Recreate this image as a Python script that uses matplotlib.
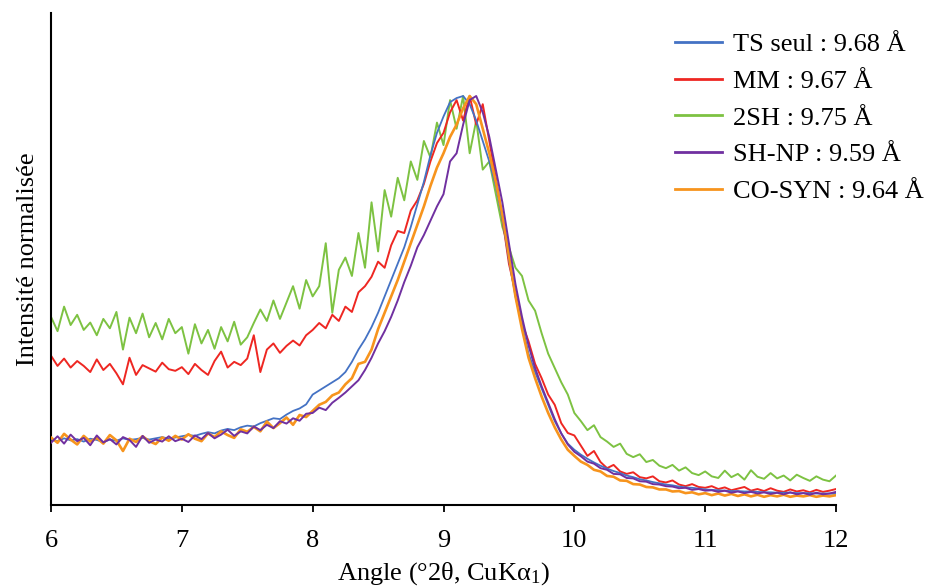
import numpy as np
import matplotlib
matplotlib.use('Agg')
import matplotlib.pyplot as plt

plt.rcParams['font.family'] = ['Liberation Serif', 'DejaVu Serif']
plt.rcParams['mathtext.fontset'] = 'custom'
plt.rcParams['mathtext.rm'] = 'Liberation Serif'
plt.rcParams['mathtext.it'] = 'Liberation Serif:italic'

# scan grid (°2θ), one point every 0.05°
ANGLE_START = 6.0
ANGLE_STEP = 0.05

# normalized intensities (peak = 100)
ts_seul = [
    16.0, 15.6, 16.3, 15.8, 16.1, 15.5, 16.2, 15.9, 15.4, 16.0, 15.7, 16.3, 15.9, 16.1, 16.4, 16.0, 16.3, 16.6, 16.2, 16.5,
    16.8, 17.1, 16.9, 17.4, 17.8, 17.5, 18.2, 18.6, 18.3, 19.0, 19.4, 19.2, 20.0, 20.6, 21.2, 21.0, 22.1, 23.0, 23.6, 24.6,
    27.0, 28.0, 29.0, 30.0, 31.0, 32.5, 35.0, 38.0, 40.5, 43.5, 47.0, 51.0, 55.0, 59.0, 63.0, 68.0, 73.5, 79.0, 85.5, 91.0,
    95.0, 98.5, 99.5, 100.0, 98.0, 94.0, 89.0, 84.0, 78.0, 70.0, 60.0, 51.0, 44.0, 37.0, 32.5, 28.5, 24.5, 20.5, 17.5, 15.0,
    13.5, 12.3, 11.3, 10.4, 9.6, 8.9, 8.3, 7.8, 7.2, 6.8, 6.3, 6.0, 5.6, 5.3, 5.0, 4.8, 4.5, 4.3, 4.2, 4.0,
    3.8, 3.7, 3.6, 3.5, 3.4, 3.4, 3.3, 3.3, 3.2, 3.1, 3.1, 3.0, 3.0, 3.0, 2.9, 2.9, 2.9, 2.8, 2.8, 2.8, 2.7,
]
mm = [
    36.5, 34.0, 35.8, 33.6, 35.2, 34.0, 32.5, 35.6, 33.0, 34.5, 32.2, 29.5, 36.0, 31.8, 34.2, 33.4, 32.6, 34.8, 33.2, 32.8,
    33.7, 32.0, 34.5, 33.0, 31.8, 35.2, 37.5, 33.6, 35.0, 34.2, 35.8, 41.5, 32.5, 38.0, 39.5, 37.2, 38.9, 40.2, 39.0, 41.5,
    42.8, 44.5, 43.2, 46.5, 45.0, 48.5, 47.2, 52.0, 53.5, 55.8, 59.5, 58.0, 63.5, 67.0, 66.5, 72.0, 74.5, 78.5, 84.0, 88.5,
    91.0, 96.0, 99.0, 94.0, 100.0, 93.0, 98.0, 89.0, 80.0, 70.0, 59.0, 52.0, 44.5, 40.0, 34.5, 31.0, 27.0, 24.5, 20.0, 17.6,
    17.0, 14.5, 12.0, 13.2, 10.5, 9.0, 9.8, 8.2, 7.6, 8.0, 6.8, 6.5, 7.0, 5.8, 5.5, 6.0, 5.0, 4.6, 5.1, 4.4,
    4.2, 4.6, 3.9, 4.3, 3.6, 4.0, 4.4, 3.5, 3.9, 3.4, 4.1, 3.5, 3.2, 3.8, 3.3, 3.6, 3.1, 3.7, 3.2, 3.5, 3.9,
]
sh2 = [
    46.0, 42.5, 48.5, 44.0, 46.5, 42.8, 44.6, 41.5, 45.5, 43.2, 47.2, 38.0, 45.8, 42.0, 46.8, 41.0, 44.5, 40.5, 45.5, 42.0,
    43.5, 37.0, 44.2, 39.5, 42.8, 38.2, 43.5, 40.0, 44.8, 39.2, 41.0, 44.5, 47.8, 45.0, 50.0, 45.5, 49.5, 53.5, 48.0, 55.0,
    51.0, 53.5, 64.0, 47.0, 57.5, 60.5, 56.0, 66.5, 58.0, 74.0, 62.0, 77.0, 70.5, 80.0, 74.5, 84.0, 79.5, 89.0, 85.0, 93.5,
    88.0, 99.0, 92.0, 100.0, 86.0, 94.0, 82.0, 84.0, 76.0, 68.0, 63.0, 58.0, 56.0, 50.0, 47.5, 42.0, 37.0, 33.5, 30.0, 27.0,
    22.5, 20.5, 18.3, 19.5, 16.6, 15.5, 14.2, 15.0, 12.5, 11.7, 12.4, 10.5, 11.0, 9.6, 9.0, 9.8, 8.4, 9.2, 7.8, 7.3,
    8.2, 7.0, 6.6, 8.4, 6.8, 7.6, 6.2, 8.5, 6.9, 6.4, 7.8, 6.5, 7.2, 6.0, 7.4, 6.6, 5.9, 7.0, 6.2, 5.8, 7.2,
]
sh_np = [
    15.2, 16.8, 15.0, 17.2, 15.6, 16.4, 14.6, 17.0, 15.3, 16.1, 14.8, 16.6, 15.9, 14.2, 16.9, 15.2, 16.0, 15.5, 16.8, 15.6,
    16.2, 15.4, 17.0, 16.1, 17.6, 16.3, 17.2, 18.4, 16.9, 18.0, 17.5, 19.2, 18.3, 19.6, 18.8, 20.5, 19.9, 21.2, 20.6, 22.3,
    22.5, 23.8, 23.2, 25.0, 26.2, 27.5, 29.0, 30.5, 33.0, 36.0, 39.5, 42.5, 46.0, 50.0, 54.5, 58.5, 63.0, 66.0, 69.5, 73.0,
    76.0, 84.0, 86.0, 93.0, 99.0, 100.0, 96.0, 90.0, 82.0, 74.0, 64.0, 54.0, 46.0, 39.0, 33.5, 29.0, 25.0, 21.0, 17.5, 14.8,
    13.0, 11.9, 10.6, 10.1, 9.0, 8.6, 7.6, 7.5, 6.6, 6.5, 5.8, 5.7, 5.1, 5.0, 4.6, 4.5, 4.1, 4.2, 3.7, 3.9,
    3.5, 3.6, 3.2, 3.5, 3.0, 3.3, 2.9, 3.2, 2.8, 3.1, 2.7, 3.0, 2.6, 3.1, 2.6, 2.9, 2.5, 3.0, 2.6, 2.8, 3.2,
]
co_syn = [
    16.5, 15.2, 17.4, 16.0, 14.8, 16.9, 15.5, 16.4, 15.0, 17.1, 15.8, 13.2, 16.2, 15.4, 16.8, 15.6, 14.9, 16.5, 15.7, 16.9,
    16.0, 17.3, 16.2, 15.6, 17.5, 16.6, 18.0, 17.1, 16.4, 18.5, 17.9, 19.1, 18.0, 20.4, 18.8, 20.0, 21.4, 19.6, 22.0, 21.5,
    23.0, 24.5, 25.2, 26.8, 27.5, 29.5, 31.0, 34.5, 35.0, 38.0, 43.0, 47.0, 51.0, 55.0, 59.5, 64.0, 68.5, 73.0, 78.0, 82.5,
    86.0, 90.0, 93.0, 97.0, 100.0, 98.0, 92.0, 86.0, 79.0, 71.0, 61.0, 51.0, 43.0, 36.0, 31.0, 26.5, 22.5, 19.0, 16.0, 13.5,
    12.0, 10.6, 9.8, 8.6, 8.2, 7.1, 6.9, 6.0, 5.9, 5.1, 5.0, 4.4, 4.3, 3.8, 3.8, 3.3, 3.4, 2.9, 3.1, 2.6,
    2.9, 2.4, 2.8, 2.3, 2.7, 2.2, 2.6, 2.1, 2.5, 2.0, 2.4, 2.1, 2.5, 2.0, 2.3, 2.1, 2.4, 2.0, 2.3, 2.1, 2.4,
]

labels = ['TS seul : 9.68 Å', 'MM : 9.67 Å', '2SH : 9.75 Å', 'SH-NP : 9.59 Å', 'CO-SYN : 9.64 Å']
colors = ['#4472C4', '#EE2722', '#7DC242', '#7030A0', '#F7941D']
x_ticks = [6, 7, 8, 9, 10, 11, 12]

angle = ANGLE_START + ANGLE_STEP * np.arange(len(ts_seul))

fig = plt.figure(figsize=(9.29, 5.88), dpi=100)
ax = fig.add_axes([0.0549, 0.1412, 0.845, 0.8367])

series = [ts_seul, mm, sh2, sh_np, co_syn]
widths = [1.3, 1.4, 1.4, 1.4, 1.9]
zorders = [3, 2, 1, 5, 4]
handles = []
for y, lab, c, lw, z in zip(series, labels, colors, widths, zorders):
    line, = ax.plot(angle, y, color=c, lw=lw, label=lab, zorder=z)
    handles.append(line)

ax.set_xlim(6, 12)
ax.set_ylim(0, 120.3)
ax.set_xticks(x_ticks)
ax.set_yticks([])
ax.tick_params(axis='x', direction='out', length=5, width=1.3, labelsize=19, pad=13)
for side in ['top', 'right']:
    ax.spines[side].set_visible(False)
for side in ['left', 'bottom']:
    ax.spines[side].set_linewidth(1.5)

ax.set_xlabel('Angle (°2θ, CuKα$_\\mathrm{1}$)', fontsize=19, labelpad=6)
ax.set_ylabel('Intensité normalisée', fontsize=19, labelpad=9)

leg = fig.legend(handles=handles, labels=labels, loc='upper left',
                 bbox_to_anchor=(0.715, 0.962), frameon=False, fontsize=19,
                 handlelength=1.8, handletextpad=0.4, labelspacing=0.5,
                 borderaxespad=0)
for h in leg.legend_handles:
    h.set_linewidth(2.0)

fig.savefig('out.png', dpi=100)
